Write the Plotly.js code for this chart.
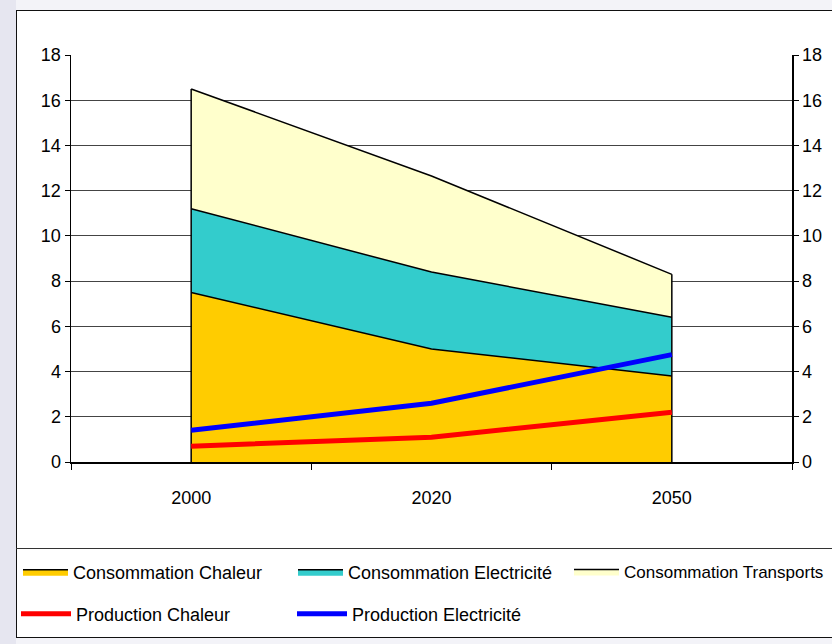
<!DOCTYPE html>
<html>
<head>
<meta charset="utf-8">
<script src="https://cdn.plot.ly/plotly-3.0.1.min.js"></script>
<style>
  html, body { margin:0; padding:0; background:#f3f3f8; width:832px; height:644px; overflow:hidden; }
  #strip { position:absolute; left:0; top:0; width:16px; height:644px; background:#e6e6f0; }
  #box { position:absolute; left:16px; top:10px; width:830px; height:628px; background:#fff; border:1.5px solid #111; box-sizing:border-box; }
  #sep { position:absolute; left:16px; top:548px; width:830px; height:0; border-top:1.5px solid #333; }
  #chart { position:absolute; left:0; top:0; width:832px; height:644px; }
</style>
</head>
<body>
<div id="strip"></div>
<div id="box"></div>
<div id="sep"></div>
<div id="chart"></div>
<script>
const years = ['2000', '2020', '2050'];
const consoChaleur = [7.5, 5.0, 3.8];
const consoElec = [3.7, 3.4, 2.6];
const consoTransports = [5.3, 4.25, 1.9];
const prodChaleur = [0.7, 1.1, 2.2];
const prodElec = [1.4, 2.6, 4.75];
const yTicks = [0, 2, 4, 6, 8, 10, 12, 14, 16, 18];

const FONT = '"Liberation Sans", Arial, sans-serif';
const FS = 18;
const totals = years.map((_, i) => consoChaleur[i] + consoElec[i] + consoTransports[i]);
const last = years.length - 1;

const areaLine = {color: '#000', width: 1.5};
const traces = [
  {x: years, y: consoChaleur, name: 'Consommation Chaleur', type: 'scatter', mode: 'lines',
   stackgroup: 'c', fillcolor: '#ffcc00', line: areaLine, legend: 'legend'},
  {x: years, y: consoElec, name: 'Consommation Electricité', type: 'scatter', mode: 'lines',
   stackgroup: 'c', fillcolor: '#33cccc', line: areaLine, legend: 'legend2'},
  {x: years, y: consoTransports, name: 'Consommation Transports', type: 'scatter', mode: 'lines',
   stackgroup: 'c', fillcolor: '#ffffcc', line: areaLine, legend: 'legend3'},
  {x: [years[0], years[0]], y: [0, totals[0]], type: 'scatter', mode: 'lines',
   line: areaLine, showlegend: false, hoverinfo: 'skip'},
  {x: [years[last], years[last]], y: [0, totals[last]], type: 'scatter', mode: 'lines',
   line: areaLine, showlegend: false, hoverinfo: 'skip'},
  {x: years, y: prodChaleur, name: 'Production Chaleur', type: 'scatter', mode: 'lines',
   line: {color: '#ff0000', width: 5}, legend: 'legend4'},
  {x: years, y: prodElec, name: 'Production Electricité', type: 'scatter', mode: 'lines',
   line: {color: '#0000ff', width: 5}, legend: 'legend5'},
  {x: years, y: prodElec, yaxis: 'y2', type: 'scatter', mode: 'lines',
   line: {width: 0}, opacity: 0, showlegend: false, hoverinfo: 'skip'}
];

const yaxisBase = {
  range: [0, 18], tickvals: yTicks, ticktext: yTicks.map(String),
  ticks: 'outside', ticklen: 5, tickcolor: '#000', tickwidth: 1,
  showline: true, linecolor: '#000', linewidth: 1.5,
  tickfont: {family: FONT, size: FS, color: '#000'}, zeroline: false, fixedrange: true
};

function leg(px, py, iw, fs) {
  return {
    orientation: 'h', xref: 'container', yref: 'container',
    x: px / 832, y: 1 - py / 644, xanchor: 'left', yanchor: 'middle',
    itemwidth: iw, traceorder: 'normal',
    font: {family: FONT, size: fs || FS, color: '#000'}, bgcolor: 'rgba(0,0,0,0)'
  };
}

const layout = {
  width: 832, height: 644,
  margin: {l: 71, r: 40, t: 55, b: 182},
  paper_bgcolor: 'rgba(0,0,0,0)', plot_bgcolor: 'rgba(0,0,0,0)',
  font: {family: FONT, size: FS, color: '#000'},
  xaxis: {
    type: 'category', range: [-0.5, 2.5], tickson: 'boundaries',
    ticks: 'outside', ticklen: 6, tickcolor: '#000', showgrid: false,
    showline: true, linecolor: '#000', linewidth: 1.5,
    tickfont: {family: FONT, size: FS, color: '#000'}, ticklabelstandoff: 19
  },
  yaxis: Object.assign({}, yaxisBase, {side: 'left', showgrid: true, gridcolor: '#444', gridwidth: 1}),
  yaxis2: Object.assign({}, yaxisBase, {side: 'right', overlaying: 'y', showgrid: false}),
  legend: leg(18, 572, 45),
  legend2: leg(293, 572, 45),
  legend3: leg(569, 572, 45, 17),
  legend4: leg(16, 614, 50),
  legend5: leg(292, 614, 50),
  showlegend: true
};

Plotly.newPlot('chart', traces, layout, {displayModeBar: false, staticPlot: true});
</script>
</body>
</html>
